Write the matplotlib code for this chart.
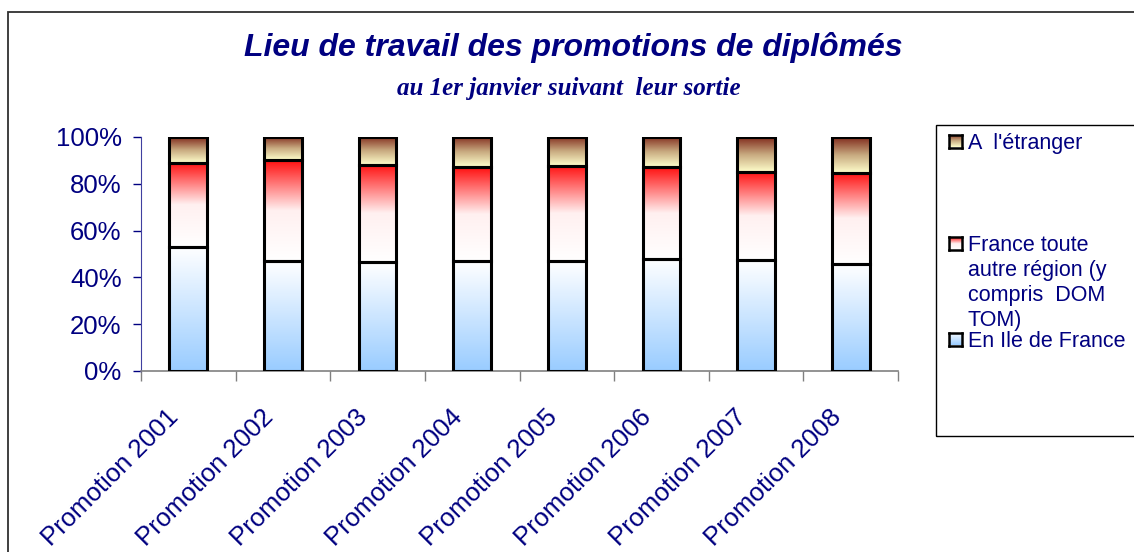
import numpy as np
import matplotlib
matplotlib.use("Agg")
import matplotlib.pyplot as plt
from matplotlib.colors import LinearSegmentedColormap
from matplotlib.patches import Rectangle
from matplotlib.transforms import blended_transform_factory, ScaledTranslation

# ---- data ----
categories = ["Promotion 2001", "Promotion 2002", "Promotion 2003", "Promotion 2004",
              "Promotion 2005", "Promotion 2006", "Promotion 2007", "Promotion 2008"]
ile_de_france = [53.0, 47.0, 46.5, 47.0, 46.8, 48.0, 47.4, 45.7]
autre_region = [36.0, 43.0, 41.5, 40.0, 40.8, 39.0, 37.7, 39.0]
etranger = [11.0, 10.0, 12.0, 13.0, 12.4, 13.0, 14.9, 15.3]
series_names = ["En Ile de France", "France toute\nautre région (y\ncompris  DOM\nTOM)", "A  l'étranger"]
yticks = [0, 20, 40, 60, 80, 100]
ytick_labels = ["0%", "20%", "40%", "60%", "80%", "100%"]
title = "Lieu de travail des promotions de diplômés"
subtitle = "au 1er janvier suivant  leur sortie"

NAVY = "#000080"
W, H = 1134, 552
fig = plt.figure(figsize=(W / 100, H / 100), dpi=100)
fig.patch.set_facecolor("white")

# gradients (bottom color -> top color)
grads = [
    LinearSegmentedColormap.from_list("g0", ["#99CCFF", "#FFFFFF"]),
    LinearSegmentedColormap.from_list("g1", ["#FFFFFF", "#FFF0F0", "#FF1010"]),
    LinearSegmentedColormap.from_list("g2", ["#FFFFCC", "#C8AA80", "#802A1C"]),
]

ax = fig.add_axes([141 / W, (H - 371) / H, (898 - 141) / W, (371 - 137) / H])
x = np.arange(len(categories))
width = 0.4
grad_img = np.linspace(0, 1, 256).reshape(-1, 1)

bottom = np.zeros(len(categories))
for vals, cmap in zip([ile_de_france, autre_region, etranger], grads):
    bars = ax.bar(x, vals, width, bottom=bottom, facecolor="none",
                  edgecolor="black", linewidth=2.2, zorder=3)
    for b in bars:
        x0, y0 = b.get_x(), b.get_y()
        x1, y1 = x0 + b.get_width(), y0 + b.get_height()
        im = ax.imshow(grad_img, cmap=cmap, origin="lower", aspect="auto",
                       extent=(x0, x1, y0, y1), zorder=2, interpolation="bilinear")
        im.set_clip_path(b)
    bottom = bottom + np.array(vals)

ax.set_xlim(-0.5, len(categories) - 0.5)
ax.set_ylim(0, 100)

ax.set_yticks(yticks)
ax.set_yticklabels(ytick_labels, fontsize=18.5, color=NAVY, family="Liberation Sans")
ax.tick_params(axis="y", direction="out", length=6, width=1, color=NAVY, pad=8)

ax.set_xticks(np.arange(-0.5, len(categories), 1.0))
ax.set_xticklabels([])
ax.tick_params(axis="x", direction="out", length=7, width=1, color="#808080")

for s in ["top", "right"]:
    ax.spines[s].set_visible(False)
ax.spines["left"].set_color("#4040A0")
ax.spines["bottom"].set_color("#808080")
ax.spines["bottom"].set_linewidth(1.2)

trans = blended_transform_factory(ax.transData, ax.transAxes) + \
    ScaledTranslation(-22 / 100, -34 / 100, fig.dpi_scale_trans)
for i, lab in enumerate(categories):
    ax.text(i, 0, lab, transform=trans, rotation=45, rotation_mode="anchor",
            ha="right", va="top", fontsize=18.5, color=NAVY, family="Liberation Sans")

# titles
fig.text(573 / W, 1 - 48 / H, title, ha="center", va="center", fontsize=23,
         fontweight="bold", fontstyle="italic", color=NAVY, family="Liberation Sans")
fig.text(569 / W, 1 - 88 / H, subtitle, ha="center", va="center", fontsize=18,
         fontweight="bold", fontstyle="italic", color=NAVY, family="Liberation Serif")

# outer chart border
fig.add_artist(Rectangle((8 / W, -0.2), 1.2, 1.2 - 12 / H, transform=fig.transFigure,
                         facecolor="none", edgecolor="#303030", linewidth=1.3))

# legend box
fig.add_artist(Rectangle((936 / W, 1 - 436 / H), 0.3, (436 - 125) / H,
                         transform=fig.transFigure, facecolor="none",
                         edgecolor="black", linewidth=1.0))

# legend entries (top to bottom: etranger, autre region, IDF)
legend_rows = [(2, 141), (1, 243), (0, 339)]
for idx, yc in legend_rows:
    sq = fig.add_axes([949 / W, 1 - (yc + 6.5) / H, 13 / W, 13 / H])
    sq.imshow(grad_img, cmap=grads[idx], origin="lower", aspect="auto",
              extent=(0, 1, 0, 1))
    sq.set_xticks([]); sq.set_yticks([])
    for s in sq.spines.values():
        s.set_linewidth(1.8); s.set_color("black")
    fig.text(968 / W, 1 - (yc - 8) / H, series_names[idx], ha="left", va="top",
             fontsize=15.5, color=NAVY, family="Liberation Sans", linespacing=1.24)

fig.savefig("out.png", dpi=100)
